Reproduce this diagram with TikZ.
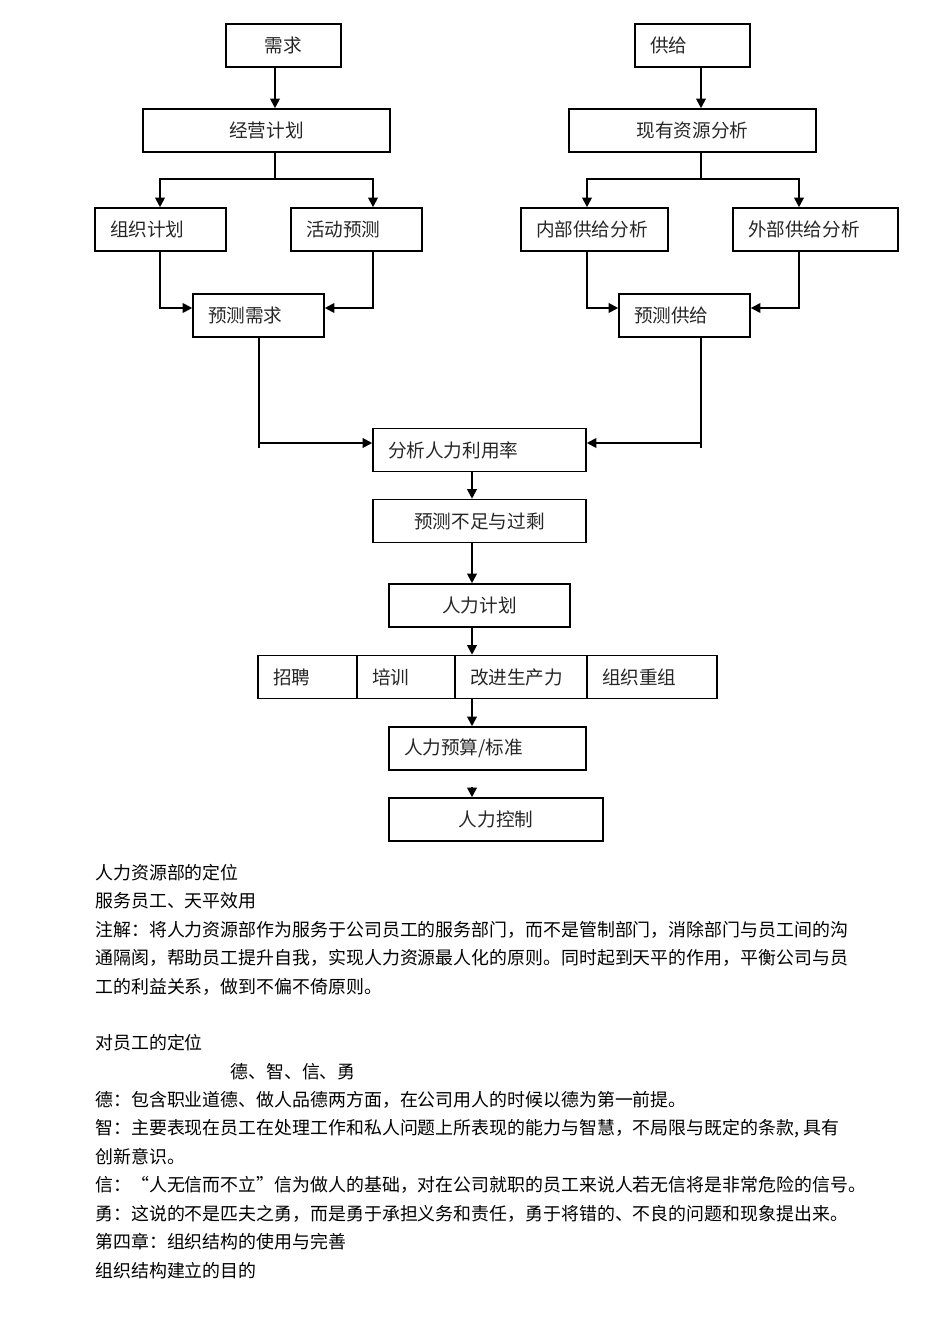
\documentclass[tikz,border=0pt]{standalone}
\usepackage{fontspec}
\setmainfont{Noto Sans CJK SC}
\usetikzlibrary{arrows.meta}

\begin{document}
\begin{tikzpicture}[x=0.02cm,y=-0.02cm,
        box/.style={draw,line width=0.9pt,minimum height=0.86cm,inner sep=0pt,text=black!85,font=\fontsize{10.6pt}{12pt}\selectfont},
        lbox/.style={box,text width=#1,align=left,inner xsep=0.3cm},
        conn/.style={line width=1.1pt},
        arr/.style={conn,-{Triangle[length=5.5pt,width=5.5pt]}},
        txt/.style={anchor=west,inner sep=0pt,font=\fontsize{10.2pt}{12pt}\selectfont}]
                \useasboundingbox (0,0) rectangle (950,1344);
                \node[box,minimum width=2.3cm] (xuqiu) at (283.5,45.5) {需求};
                \node[box,minimum width=4.94cm] (jingying) at (266.5,130.5) {经营计划};
                \node[lbox=2.02cm] (zuzhi) at (160.5,229.5) {组织计划};
                \node[lbox=2.02cm] (huodong) at (356.5,229.5) {活动预测};
                \node[lbox=2.02cm] (ycxq) at (258.5,315.5) {预测需求};
                \node[lbox=1.7cm] (gongji) at (692.5,45.5) {供给};
                \node[box,minimum width=4.94cm] (xianyou) at (692.5,130.5) {现有资源分析};
                \node[lbox=2.34cm] (neibu) at (594.5,229.5) {内部供给分析};
                \node[lbox=2.7cm] (waibu) at (815.5,229.5) {外部供给分析};
                \node[lbox=2.02cm] (ycgj) at (684.5,315.5) {预测供给};
                \node[lbox=3.66cm] (fenxi) at (479.5,450) {分析人力利用率};
                \node[box,minimum width=4.26cm] (buzu) at (479.5,521) {预测不足与过剩};
                \node[box,minimum width=3.62cm] (jihua) at (479.5,605.5) {人力计划};
                \node[lbox=1.38cm] (zhaopin) at (307.5,677) {招聘};
                \node[lbox=1.36cm] (peixun) at (406,677) {培训};
                \node[lbox=2.04cm] (gaijin) at (521,677) {改进生产力};
                \node[lbox=2.0cm] (chongzu) at (652,677) {组织重组};
                \node[lbox=3.34cm] (yusuan) at (487.5,748.5) {人力预算/标准};
                \node[box,minimum width=4.28cm] (kongzhi) at (496,819.5) {人力控制};

                \coordinate (ldiv) at (275,179);
                \coordinate (rdiv) at (701,179);
                \coordinate (lml) at (160,308);
                \coordinate (lmr) at (373,308);
                \coordinate (rml) at (587,308);
                \coordinate (rmr) at (799,308);
                \coordinate (lend) at (259,448);
                \coordinate (rend) at (701,448);
                \coordinate (fxl) at (259,443);
                \coordinate (fxr) at (701,443);
                \coordinate (mid) at (472,787);

                \draw[arr] (xuqiu.south -| ldiv) -- (jingying.north -| ldiv);
                \draw[conn] (jingying.south -| ldiv) -- (ldiv);
                \draw[arr] (ldiv) -| (zuzhi.north -| lml);
                \draw[arr] (ldiv) -| (huodong.north -| lmr);
                \draw[arr] (zuzhi.south -| lml) |- (ycxq.west |- lml);
                \draw[arr] (huodong.south -| lmr) |- (ycxq.east |- lmr);
                \draw[conn] (ycxq.south -| lend) -- (lend);
                \draw[arr] (fxl) -- (fenxi.west |- fxl);

                \draw[arr] (gongji.south -| rdiv) -- (xianyou.north -| rdiv);
                \draw[conn] (xianyou.south -| rdiv) -- (rdiv);
                \draw[arr] (rdiv) -| (neibu.north -| rml);
                \draw[arr] (rdiv) -| (waibu.north -| rmr);
                \draw[arr] (neibu.south -| rml) |- (ycgj.west |- rml);
                \draw[arr] (waibu.south -| rmr) |- (ycgj.east |- rmr);
                \draw[conn] (ycgj.south -| rend) -- (rend);
                \draw[arr] (fxr) -- (fenxi.east |- fxr);

                \draw[arr] (fenxi.south -| mid) -- (buzu.north -| mid);
                \draw[arr] (buzu.south -| mid) -- (jihua.north -| mid);
                \draw[arr] (jihua.south -| mid) -- (gaijin.north -| mid);
                \draw[arr] (gaijin.south -| mid) -- (yusuan.north -| mid);
                \draw[arr] (mid) -- (kongzhi.north -| mid);

                \node[txt] (p1) at (95,873) {人力资源部的定位};
                \node[txt] (p2) at (95,901) {服务员工、天平效用};
                \node[txt] (p3) at (95,930) {注解：将人力资源部作为服务于公司员工的服务部门，而不是管制部门，消除部门与员工间的沟};
                \node[txt] (p4) at (95,958) {通隔阂，帮助员工提升自我，实现人力资源最人化的原则。同时起到天平的作用，平衡公司与员};
                \node[txt] (p5) at (95,987) {工的利益关系，做到不偏不倚原则。};
                \node[txt] (q1) at (95,1043) {对员工的定位};
                \node[txt] (q2) at (230,1072) {德、智、信、勇};
                \node[txt] (q3) at (95,1100) {德：包含职业道德、做人品德两方面，在公司用人的时候以德为第一前提。};
                \node[txt] (q4) at (95,1129) {智：主要表现在员工在处理工作和私人问题上所表现的能力与智慧，不局限与既定的条款, 具有};
                \node[txt] (q5) at (95,1157) {创新意识。};
                \node[txt] (q6) at (95,1185) {信：“人无信而不立”信为做人的基础，对在公司就职的员工来说人若无信将是非常危险的信号。};
                \node[txt] (q7) at (95,1214) {勇：这说的不是匹夫之勇，而是勇于承担义务和责任，勇于将错的、不良的问题和现象提出来。};
                \node[txt] (q8) at (95,1242) {第四章：组织结构的使用与完善};
                \node[txt] (q9) at (95,1271) {组织结构建立的目的};
\end{tikzpicture}
\end{document}
